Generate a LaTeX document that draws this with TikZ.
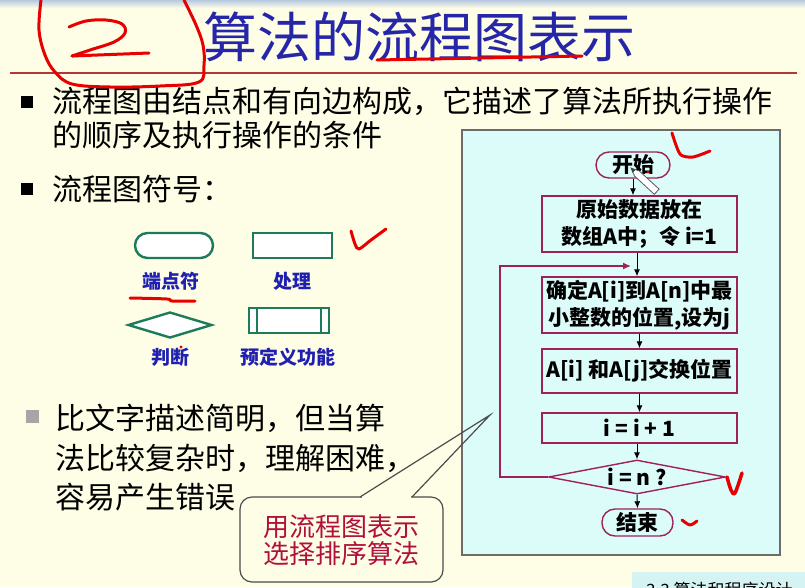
\documentclass[tikz,border=0pt]{standalone}
\usepackage{fontspec}
\setmainfont{Noto Sans CJK SC}
\usetikzlibrary{arrows.meta,shapes.geometric}
\definecolor{paper}{HTML}{FEFDE6}
\definecolor{panelbg}{HTML}{DCFCFA}
\definecolor{titleblue}{HTML}{2626A8}
\definecolor{rulered}{HTML}{B03838}
\definecolor{crim}{HTML}{A0205A}
\definecolor{legendgreen}{HTML}{1E7B5A}
\definecolor{labelblue}{HTML}{2020B0}
\definecolor{ink}{HTML}{E80000}
\definecolor{calloutred}{HTML}{B0103C}
\definecolor{stripblue}{HTML}{B8C8E0}
\definecolor{tabcyan}{HTML}{D6F3F3}
\begin{document}
\begin{tikzpicture}[x=1pt,y=-1pt,
  body/.style={anchor=west,inner sep=0pt,font=\fontsize{30}{30}\selectfont},
  sym/.style={draw=legendgreen,line width=2.4pt,fill=white,inner sep=0pt},
  symlabel/.style={inner sep=0pt,text=labelblue,font=\fontsize{19}{19}\selectfont\bfseries},
  fbox/.style={draw=crim,line width=1.4pt,fill=panelbg,inner sep=0pt,align=center,
    minimum width=195pt,font=\fontsize{21}{27}\selectfont\bfseries},
  term/.style={fbox,minimum width=0pt,rounded corners=13pt},
  arr/.style={line width=1pt,-{Latex[length=7pt,width=6pt]}},
  hand/.style={draw=ink,line width=3pt,line cap=round,line join=round}]
\useasboundingbox (0,0) rectangle (805,587);
\clip (0,0) rectangle (805,587);
% page background and top strip
\fill[paper] (0,0) rectangle (805,587);
\shade[top color=stripblue,bottom color=paper] (0,0) rectangle (805,8);

% heading
\node[inner sep=0pt,text=titleblue,font=\fontsize{54}{54}\selectfont] (title) at (419,37) {算法的流程图表示};
\draw[rulered,line width=1.3pt] (10,73) -- (797,73);

% bullet points
\fill[black] (21,96) rectangle (33,108);
\node[body] (p1a) at (52,101) {流程图由结点和有向边构成，它描述了算法所执行操作};
\node[body] (p1b) at (52,135) {的顺序及执行操作的条件};
\fill[black] (21,183) rectangle (33,195);
\node[body] (p2) at (52,189) {流程图符号：};
\fill[gray!70] (26,410) rectangle (39,423);
\node[body] (p3a) at (55,418) {比文字描述简明，但当算};
\node[body] (p3b) at (55,458) {法比较复杂时，理解困难，};
\node[body] (p3c) at (55,497) {容易产生错误};

% legend of flowchart symbols
\node[sym,minimum width=78pt,minimum height=25pt,rounded corners=12.5pt] (lterm) at (174,245.5) {};
\node[sym,minimum width=79pt,minimum height=25pt] (lproc) at (292.5,245.5) {};
\node[sym,diamond,aspect=3.2,minimum width=84pt,minimum height=26pt] (ldec) at (170,325) {};
\node[sym,minimum width=80pt,minimum height=25pt] (lpre) at (289,320.5) {};
\draw[legendgreen,line width=2.4pt] ([xshift=9pt]lpre.north west) -- ([xshift=9pt]lpre.south west);
\draw[legendgreen,line width=2.4pt] ([xshift=-9pt]lpre.north east) -- ([xshift=-9pt]lpre.south east);
\node[symlabel] (tterm) at (171,281) {端点符};
\node[symlabel] (tproc) at (292,281) {处理};
\node[symlabel] (tdec) at (170,357) {判断};
\node[symlabel] (tpre) at (288,357) {预定义功能};

% flowchart panel
\draw[fill=panelbg,draw=gray!85!black,line width=1.5pt] (462,130) rectangle (780,555);
\node[term,minimum width=74pt,minimum height=26pt] (start) at (633,165) {开始};
\node[fbox,minimum height=56pt] (init) at (639.5,224) {原始数据放在\\数组A中；令 i=1};
\node[fbox,minimum height=56pt] (findmin) at (639.5,305) {确定A[i]到A[n]中最\\小整数的位置,设为j};
\node[fbox,minimum height=44pt] (swap) at (639.5,371) {A[i] 和A[j]交换位置};
\node[fbox,minimum height=30pt] (inc) at (639.5,428) {i = i + 1};
\node[draw=crim,line width=1.4pt,fill=panelbg,diamond,aspect=5.2,inner sep=0pt,
  minimum width=177pt,minimum height=34pt,font=\fontsize{21}{21}\selectfont\bfseries] (test) at (637,477) {i = n ?};
\node[term,minimum width=71pt,minimum height=27pt] (stop) at (637.5,522.5) {结束};
\coordinate (loopin) at (631,266);

\draw[arr] (start.south) -- (start.south |- init.north);
\draw[arr] (init.south -| 637,0) -- (findmin.north -| 637,0);
\draw[arr] (findmin) -- (swap);
\draw[arr] (swap) -- (inc);
\draw[arr] (inc.south -| test.north) -- (test.north);
\draw[arr] (test.south) -- (stop.north);
\draw[crim,line width=1.4pt,-{Latex[length=8pt,width=7pt]}] (test.west) -- (500,477) |- (loopin);

% callout
\draw[fill=paper,draw=black!70,line width=1.2pt,rounded corners=12pt] (240,497) rectangle (443,582);
\fill[paper] (361.5,495) rectangle (410.5,499.5);
\draw[black!70,line width=1.2pt] (360,497) -- (490,415) -- (412,497);
\node[inner sep=0pt,align=center,text=calloutred,font=\fontsize{26}{27}\selectfont] (note) at (341,540) {用流程图表示\\选择排序算法};

% footer tab
\fill[tabcyan] (632,572) rectangle (805,590);
\node[anchor=west,inner sep=0pt,font=\fontsize{17}{17}\selectfont] (footer) at (646,590) {3.3 算法和程序设计};

% pencil pointer resting on the start node
\filldraw[fill=white,draw=gray!70!black,line width=0.8pt] (631,168) -- (639.3,171.0) -- (659.1,189.1) -- (654.3,194.3) -- (634.5,176.0) -- cycle;
\fill[black!75] (631,168) -- (635.5,169.8) -- (632.6,172.8) -- cycle;

% red handwritten marks
\draw[hand] plot[smooth,tension=0.6] coordinates {(41,0) (39,30) (45,55) (55,72) (72,84) (110,87) (160,86) (199,82) (204,65) (203,45) (196,25) (184,0)};
\draw[hand] plot[smooth,tension=0.6] coordinates {(69,27) (86,21) (106,20) (122,24) (125,33) (114,42) (90,50) (72,56)};
\draw[hand] (72,56) -- (149,53);
\draw[hand] plot[smooth,tension=0.5] coordinates {(377,60) (480,58) (582,56)};
\draw[hand] plot[smooth,tension=0.5] coordinates {(351,231) (355,244) (359,249) (371,240) (386,229)};
\draw[hand] plot[smooth,tension=0.5] coordinates {(130,298) (167,299) (172,301) (195,301)};
\fill[ink] (181,347) circle (1.6);
\draw[hand] plot[smooth,tension=0.5] coordinates {(672,133) (676,145) (681,155) (693,157) (710,151)};
\fill[ink] (648,172) circle (1.5);
\draw[hand,line width=3.5pt] plot[smooth,tension=0.5] coordinates {(727,477) (731,490) (735,493) (742,473)};
\draw[hand] plot[smooth,tension=0.5] coordinates {(682,520) (690,525) (697,521)};
\end{tikzpicture}
\end{document}
